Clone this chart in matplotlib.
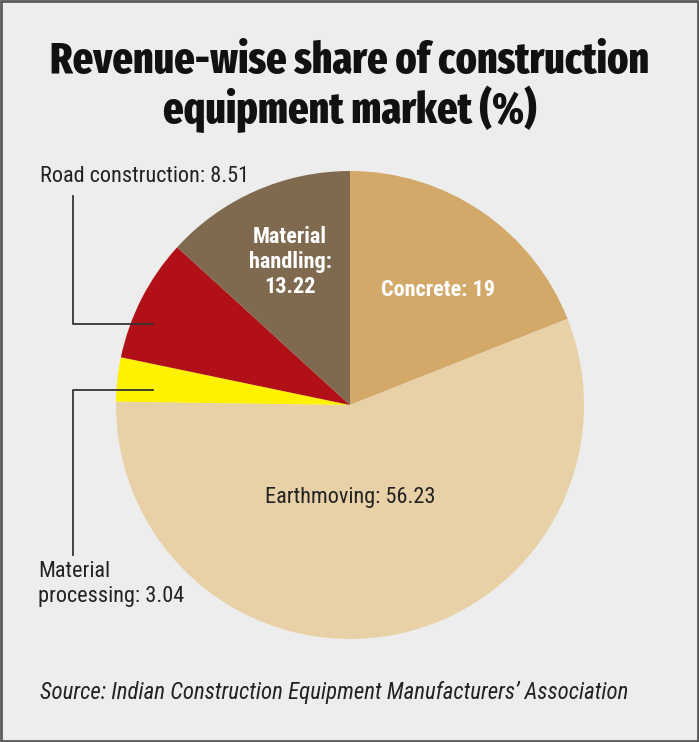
import matplotlib.pyplot as plt
from matplotlib.patches import Rectangle

# Данные
segments = ['Concrete', 'Earthmoving', 'Material processing', 'Road construction', 'Material handling']
shares = [19, 56.23, 3.04, 8.51, 13.22]
colors = ['#D3A969', '#E8D1A7', '#FFF200', '#B11116', '#7F6A50']

W, H = 699, 742
cond = ['Roboto Condensed', 'DejaVu Sans']
heavy = ['Fira Sans Extra Condensed', 'Roboto Condensed', 'DejaVu Sans']

fig = plt.figure(figsize=(W / 100, H / 100), dpi=100)
fig.patch.set_facecolor('#EDEDED')
ax = fig.add_axes([0, 0, 1, 1])

# пирог
ax.pie(shares, colors=colors, startangle=90, counterclock=False,
       center=(350, H - 405), radius=234, frame=True,
       wedgeprops=dict(linewidth=0))
ax.set_xlim(0, W)
ax.set_ylim(0, H)
ax.set_aspect('equal')
ax.axis('off')

# рамка
ax.add_patch(Rectangle((1, 1), W - 2, H - 2, fill=False, edgecolor='#5A5A5A', linewidth=2))

# заголовок
ax.text(W / 2, H - 62, 'Revenue-wise share of construction', ha='center', va='center',
        fontsize=31.2, fontweight=800, family=heavy, color='#111111')
ax.text(W / 2, H - 109, 'equipment market (%)', ha='center', va='center',
        fontsize=31.2, fontweight=800, family=heavy, color='#111111')

# подписи внутри
ax.text(290, H - 262, f'Material\nhandling:\n{shares[4]}', ha='center', va='center',
        fontsize=16, fontweight='bold', family=cond, color='white', linespacing=1.15)
ax.text(438, H - 290, f'Concrete: {shares[0]}', ha='center', va='center',
        fontsize=16, fontweight='bold', family=cond, color='white')
ax.text(350, H - 497, f'Earthmoving: {shares[1]}', ha='center', va='center',
        fontsize=16, family=cond, color='#222222')

# выноски
ax.text(40, H - 177, f'Road construction: {shares[3]}', ha='left', va='center',
        fontsize=16, family=cond, color='#222222')
ax.plot([73, 73, 153], [H - 196, H - 324, H - 324], color='#333333', linewidth=1.3)
ax.text(38, H - 584, f'Material\nprocessing: {shares[2]}', ha='left', va='center',
        fontsize=16, family=cond, color='#222222', linespacing=1.2)
ax.plot([153, 73, 73], [H - 390, H - 390, H - 555], color='#333333', linewidth=1.3)

# источник
ax.text(40, H - 692, "Source: Indian Construction Equipment Manufacturers’ Association",
        ha='left', va='center', fontsize=16.5, style='italic', family=cond, color='#222222')

fig.savefig('out.png', dpi=100, facecolor=fig.get_facecolor())
